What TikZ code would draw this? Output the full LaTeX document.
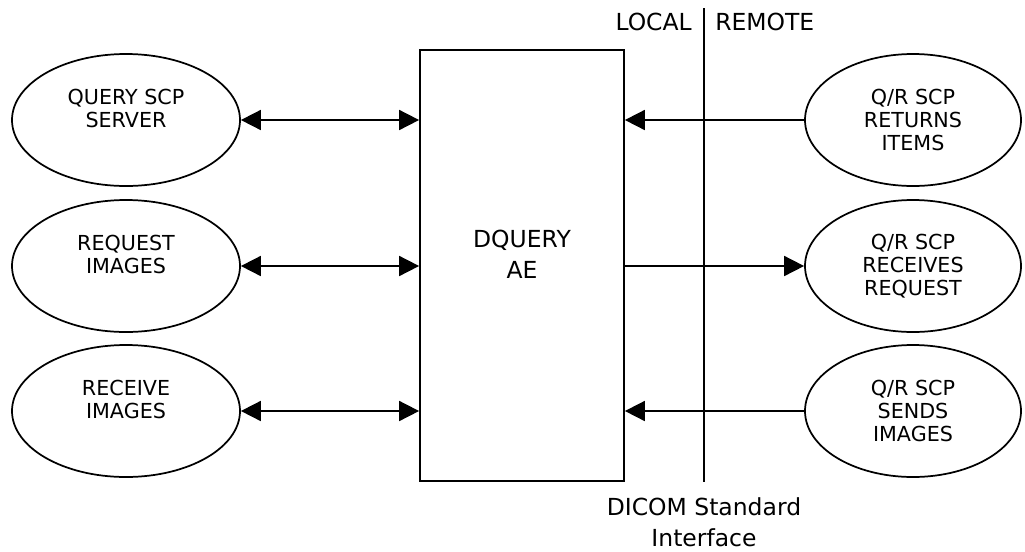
\documentclass[tikz,border=0pt]{standalone}
\usepackage{fontspec}
\setmainfont{DejaVu Sans}
\usetikzlibrary{shapes.geometric,arrows.meta}

\tikzset{
    proc/.style={draw, ellipse, line width=1.3pt, minimum width=171pt, minimum height=99pt,
        inner sep=0pt, align=center, font=\fontsize{15.5}{17.5}\selectfont},
    link/.style={line width=1.3pt, arrows={-Triangle[length=15pt,width=15pt]}},
    twoway/.style={line width=1.3pt, arrows={Triangle[length=15pt,width=15pt]-Triangle[length=15pt,width=15pt]}},
    biglabel/.style={inner sep=0pt, align=center, font=\fontsize{17.6}{23}\selectfont}
}

\begin{document}
\begin{tikzpicture}[x=0.75pt,y=-0.75pt]
        \useasboundingbox (0,0) rectangle (1025,551);
        \node [draw, line width=1.3pt, minimum width=153pt, minimum height=323.25pt, inner sep=0pt] (ae) at (522,265.5) {};
        \node [biglabel] (aetext) at (522,254) {DQUERY\\AE};
        \node [proc] (qserver) at (126,120) {QUERY SCP\\SERVER\\~};
        \node [proc] (reqimg) at (126,266) {REQUEST\\IMAGES\\~};
        \node [proc] (rcvimg) at (126,411) {RECEIVE\\IMAGES\\~};
        \node [proc, minimum width=162pt] (rreturns) at (913,120) {Q/R SCP\\RETURNS\\ITEMS};
        \node [proc, minimum width=162pt] (rreceives) at (913,266) {Q/R SCP\\RECEIVES\\REQUEST};
        \node [proc, minimum width=162pt] (rsends) at (913,411) {Q/R SCP\\SENDS\\IMAGES};
        \coordinate (iftop) at (704,8);
        \coordinate (ifbot) at (704,482);
        \draw [line width=1.3pt] (iftop) -- (ifbot);
        \node [biglabel, anchor=east] (local) at (692,22) {LOCAL};
        \node [biglabel, anchor=west] (remote) at (715,22) {REMOTE};
        \node [biglabel] (dicom) at (704,522) {DICOM Standard\\Interface};
        \draw [twoway] (qserver.east) -- (qserver.east -| ae.west);
        \draw [twoway] (reqimg.east) -- (reqimg.east -| ae.west);
        \draw [twoway] (rcvimg.east) -- (rcvimg.east -| ae.west);
        \draw [link] (rreturns.west) -- (rreturns.west -| ae.east);
        \draw [link] (rreceives.west -| ae.east) -- (rreceives.west);
        \draw [link] (rsends.west) -- (rsends.west -| ae.east);
\end{tikzpicture}
\end{document}
